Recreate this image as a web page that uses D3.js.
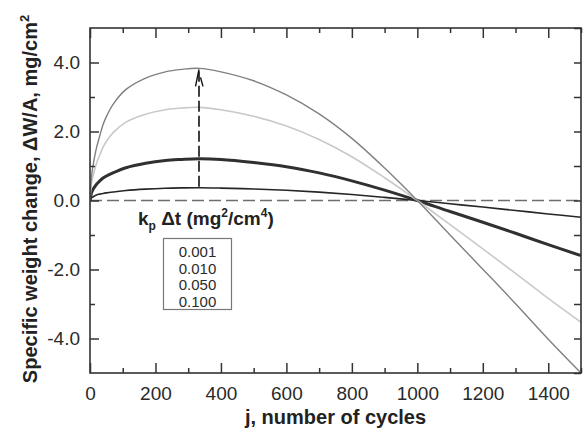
<!DOCTYPE html>
<html>
<head>
<meta charset="utf-8">
<script src="https://cdn.jsdelivr.net/npm/d3@7"></script>
<style>
  body { margin: 0; background: #fff; }
  svg { display: block; font-family: "Liberation Sans", Arial, sans-serif; }
  .axis path { display: none; }
  .axis line { stroke: #333; stroke-width: 1.5; }
  .axis text { fill: #2a2a2a; font-size: 19px; font-family: "Liberation Sans", Arial, sans-serif; }
</style>
</head>
<body>
<script>
  // cycles
  var cycles = [0, 5, 10, 20, 30, 40, 50, 70, 110, 170, 230, 280, 333, 400, 500, 600, 700, 800, 900, 1000, 1100, 1200, 1300, 1400, 1500];

  // specific weight change, mg/cm2, one array per kp*dt value
  var w_001 = [0, 0.08, 0.11, 0.16, 0.185, 0.205, 0.22, 0.245, 0.29, 0.33, 0.355, 0.365, 0.37, 0.36, 0.335, 0.296, 0.242, 0.174, 0.091, 0, -0.095, -0.19, -0.29, -0.39, -0.485];
  var w_010 = [0, 0.23, 0.33, 0.47, 0.57, 0.65, 0.71, 0.80, 0.95, 1.08, 1.16, 1.19, 1.21, 1.19, 1.10, 0.98, 0.80, 0.57, 0.30, 0, -0.32, -0.63, -0.95, -1.28, -1.60];
  var w_050 = [0, 0.52, 0.74, 1.08, 1.32, 1.55, 1.71, 1.96, 2.27, 2.50, 2.63, 2.68, 2.70, 2.63, 2.44, 2.16, 1.77, 1.27, 0.66, 0, -0.70, -1.40, -2.11, -2.84, -3.53];
  var w_100 = [0, 0.74, 1.05, 1.53, 1.88, 2.20, 2.43, 2.78, 3.22, 3.55, 3.73, 3.80, 3.83, 3.73, 3.47, 3.06, 2.51, 1.80, 0.94, 0, -1.00, -1.99, -2.99, -4.02, -5.00];

  var legend_labels = ["0.001", "0.010", "0.050", "0.100"];
  var x_ticks = [0, 200, 400, 600, 800, 1000, 1200, 1400];
  var y_ticks = [-4, -2, 0, 2, 4];

  var chart = {
    "width": 588,
    "height": 432,
    "left": 90,
    "right": 581,
    "top": 28,
    "bottom": 373
  };

  var series = [
    {"values": w_001, "color": "#262626", "width": 1.6},
    {"values": w_010, "color": "#303030", "width": 3},
    {"values": w_050, "color": "#c9c9c9", "width": 1.6},
    {"values": w_100, "color": "#808080", "width": 1.4}
  ];

  var svg = d3.select("body").append("svg")
    .attr("width", chart.width)
    .attr("height", chart.height);

  var x = d3.scaleLinear().domain([0, 1500]).range([chart.left, chart.right]);
  var y = d3.scaleLinear().domain([-5, 5]).range([chart.bottom, chart.top]);

  svg.append("clipPath").attr("id", "plot-clip")
    .append("rect")
    .attr("x", chart.left).attr("y", chart.top)
    .attr("width", chart.right - chart.left)
    .attr("height", chart.bottom - chart.top);

  //zero line
  svg.append("line")
    .attr("x1", x(0)).attr("x2", x(1500))
    .attr("y1", y(0)).attr("y2", y(0))
    .attr("stroke", "#6e6e6e")
    .attr("stroke-width", 1.5)
    .attr("stroke-dasharray", "12,5");

  //curves
  var line = d3.line()
    .x(function(d, i){ return x(cycles[i]); })
    .y(function(d){ return y(d); })
    .curve(d3.curveCatmullRom.alpha(0.5));

  svg.append("g")
    .attr("clip-path", "url(#plot-clip)")
    .selectAll("path")
    .data(series)
    .enter().append("path")
    .attr("d", function(d){ return line(d.values); })
    .attr("fill", "none")
    .attr("stroke", function(d){ return d.color; })
    .attr("stroke-width", function(d){ return d.width; })
    .attr("stroke-linejoin", "round");

  //dashed arrow at the maximum
  var peak_i = cycles.indexOf(333);
  var ax = x(cycles[peak_i]);
  var a_top = y(w_100[peak_i]) + 1;
  svg.append("line")
    .attr("x1", ax).attr("x2", ax)
    .attr("y1", y(w_001[peak_i]) - 1).attr("y2", a_top + 2)
    .attr("stroke", "#111")
    .attr("stroke-width", 1.6)
    .attr("stroke-dasharray", "11,4");
  svg.append("path")
    .attr("d", "M" + (ax - 3.5) + "," + (a_top + 17) + "L" + ax + "," + a_top +
               "M" + (ax + 1.5) + "," + (a_top + 8) + "L" + (ax + 4) + "," + (a_top + 17))
    .attr("fill", "none")
    .attr("stroke", "#111")
    .attr("stroke-width", 1.4);

  //axes, ticks point inward
  function step_ticks(lo, hi, step){
    var out = [];
    for(var v = lo; v <= hi; v += step) out.push(v);
    return out;
  }
  var x_minor = step_ticks(100, 1500, 200);
  var y_minor = [-3, -1, 1, 3];
  var y_all = step_ticks(-5, 5, 1);

  var fmt_y = function(d){ return d.toFixed(1); };
  var fmt_x = function(d){ return String(d); };

  svg.append("g").attr("class", "axis")
    .attr("transform", "translate(0," + chart.bottom + ")")
    .call(d3.axisBottom(x).tickValues(x_ticks).tickSizeInner(-10).tickSizeOuter(0).tickPadding(14).tickFormat(fmt_x));
  svg.append("g").attr("class", "axis")
    .attr("transform", "translate(0," + chart.bottom + ")")
    .call(d3.axisBottom(x).tickValues(x_minor).tickSizeInner(-5).tickSizeOuter(0).tickFormat(""));

  svg.append("g").attr("class", "axis")
    .attr("transform", "translate(0," + chart.top + ")")
    .call(d3.axisTop(x).tickValues(x_ticks).tickSizeInner(-10).tickSizeOuter(0).tickFormat(""));
  svg.append("g").attr("class", "axis")
    .attr("transform", "translate(0," + chart.top + ")")
    .call(d3.axisTop(x).tickValues(x_minor).tickSizeInner(-5).tickSizeOuter(0).tickFormat(""));

  svg.append("g").attr("class", "axis")
    .attr("transform", "translate(" + chart.left + ",0)")
    .call(d3.axisLeft(y).tickValues(y_ticks).tickSizeInner(-9).tickSizeOuter(0).tickPadding(10).tickFormat(fmt_y));
  svg.append("g").attr("class", "axis")
    .attr("transform", "translate(" + chart.left + ",0)")
    .call(d3.axisLeft(y).tickValues(y_minor).tickSizeInner(-5).tickSizeOuter(0).tickFormat(""));

  svg.append("g").attr("class", "axis")
    .attr("transform", "translate(" + chart.right + ",0)")
    .call(d3.axisRight(y).tickValues(y_all).tickSizeInner(-7).tickSizeOuter(0).tickFormat(""));

  //frame
  svg.append("rect")
    .attr("x", chart.left).attr("y", chart.top)
    .attr("width", chart.right - chart.left)
    .attr("height", chart.bottom - chart.top)
    .attr("fill", "none")
    .attr("stroke", "#333")
    .attr("stroke-width", 1.6);

  //axis titles
  svg.append("text")
    .attr("x", (chart.left + chart.right) / 2)
    .attr("y", 424)
    .attr("text-anchor", "middle")
    .attr("font-size", 20)
    .attr("font-weight", "bold")
    .attr("fill", "#222")
    .text("j, number of cycles");

  var yt = svg.append("text")
    .attr("transform", "translate(37,199) rotate(-90)")
    .attr("text-anchor", "middle")
    .attr("font-size", 20)
    .attr("font-weight", "bold")
    .attr("fill", "#222");
  yt.append("tspan").text("Specific weight change, \u0394W/A, mg/cm");
  yt.append("tspan").attr("dy", -8).attr("font-size", 13).text("2");

  //legend
  var lt = svg.append("text")
    .attr("x", 138)
    .attr("y", 225)
    .attr("font-size", 19)
    .attr("font-weight", "bold")
    .attr("fill", "#222");
  lt.append("tspan").text("k");
  lt.append("tspan").attr("dy", 5).attr("font-size", 12).text("p");
  lt.append("tspan").attr("dy", -5).text(" \u0394t (mg");
  lt.append("tspan").attr("dy", -8).attr("font-size", 12).text("2");
  lt.append("tspan").attr("dy", 8).text("/cm");
  lt.append("tspan").attr("dy", -8).attr("font-size", 12).text("4");
  lt.append("tspan").attr("dy", 8).text(")");

  svg.append("rect")
    .attr("x", 163.5).attr("y", 238.5)
    .attr("width", 68).attr("height", 71)
    .attr("fill", "none")
    .attr("stroke", "#777")
    .attr("stroke-width", 1.2);

  svg.append("g")
    .selectAll("text")
    .data(legend_labels)
    .enter().append("text")
    .attr("x", 197.5)
    .attr("y", function(d, i){ return 257 + i * 16.7; })
    .attr("text-anchor", "middle")
    .attr("font-size", 15)
    .attr("fill", "#2a2a2a")
    .text(function(d){ return d; });
</script>
</body>
</html>
